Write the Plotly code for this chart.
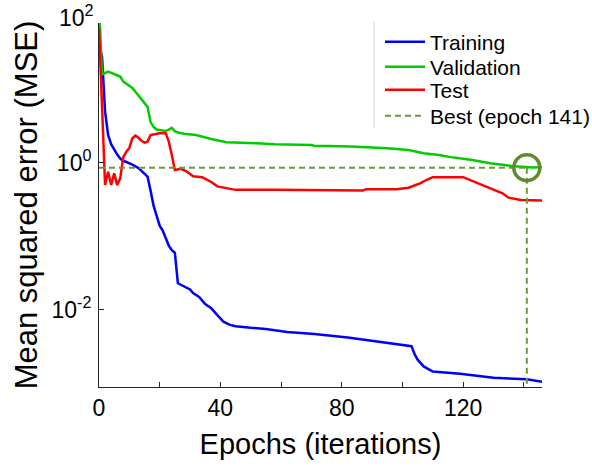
import plotly.graph_objects as go

# ---- data ----
train_epoch = [0, 1, 2, 3, 4, 5, 6, 7, 8, 9, 10, 11, 12, 13, 14, 15, 16, 17, 18, 19, 20,
               21, 22, 23, 24, 25, 26, 27, 28, 29, 30, 31, 32, 33, 35, 37, 39, 41, 43, 45,
               50, 55, 62, 71, 82, 93, 103, 104, 105, 107, 110, 119, 130, 141, 145, 146]
train_mse = [40, 28, 5.0, 2.4, 1.8, 1.5, 1.3, 1.15, 1.07, 1.03, 1.0, 0.95, 0.9, 0.85, 0.78,
             0.72, 0.65, 0.42, 0.26, 0.19, 0.14, 0.12, 0.095, 0.075, 0.065, 0.06, 0.023,
             0.022, 0.021, 0.02, 0.019, 0.017, 0.016, 0.015, 0.012, 0.0105, 0.0085, 0.0069,
             0.0063, 0.006, 0.0057, 0.0055, 0.005, 0.0047, 0.0042, 0.0036, 0.0032, 0.0025,
             0.0021, 0.0017, 0.00145, 0.00135, 0.00119, 0.00114, 0.00107, 0.00105]

val_epoch = [0, 1, 3, 5, 7, 8, 10, 11, 13, 15, 16, 17, 18, 19, 21, 22, 23, 24, 25, 26, 28,
             32, 37, 42, 52, 58, 70, 71, 83, 95, 102, 105, 107, 112, 116, 123, 129, 136,
             139, 141, 143, 145, 146]
val_mse = [150, 16, 17.5, 16, 15, 12.8, 11.2, 10.5, 8.3, 6.4, 5.8, 3.6, 3.1, 2.85, 2.75,
           2.72, 2.85, 3.0, 2.7, 2.6, 2.5, 2.4, 2.12, 1.91, 1.85, 1.8, 1.75, 1.72, 1.67,
           1.585, 1.5, 1.42, 1.355, 1.285, 1.2, 1.1, 0.99, 0.91, 0.89, 0.863, 0.868,
           0.872, 0.875]

test_epoch = [0, 1, 2, 3, 4, 5, 6, 7, 8, 9, 10, 11, 12, 13, 14, 15, 16, 17, 18, 20, 22,
              23, 24, 25, 27, 29, 31, 34, 36, 37, 39, 42, 45, 58, 87, 88, 98, 102, 104,
              106, 108, 110, 120, 123, 126, 129, 133, 135, 139, 146]
test_mse = [70, 5.0, 0.5, 0.76, 0.5, 0.72, 0.5, 0.62, 1.2, 1.42, 1.6, 2.17, 2.35, 2.2, 2.0,
            1.89, 1.95, 2.4, 2.45, 2.54, 2.54, 1.95, 1.28, 0.8, 0.83, 0.76, 0.66, 0.64,
            0.58, 0.55, 0.48, 0.455, 0.43, 0.43, 0.42, 0.44, 0.44, 0.46, 0.49, 0.53, 0.59,
            0.64, 0.64, 0.57, 0.5, 0.455, 0.387, 0.337, 0.314, 0.307]

best_epoch = 141
best_mse = 0.863

series_names = ["Training", "Validation", "Test"]
best_label = "Best (epoch 141)"

# ---- styling ----
FONT = "Liberation Sans, Arial, sans-serif"
x_range = [0, 146]
y_log_range = [-3.05, 1.905]
dash_col = "#6a9a38"
circle_col = "#5e8c2c"

ML, MR, MT, MB = 99, 50, 23, 79
W, H = 592, 466
PH = H - MT - MB


def paper_y(py):
    return 1 - (py - MT) / PH


def paper_x(px):
    return (px - ML) / (W - ML - MR)


fig = go.Figure()
fig.add_trace(go.Scatter(x=train_epoch, y=train_mse, mode="lines", name=series_names[0],
                         line=dict(color="#0000ff", width=2.5), legend="legend"))
fig.add_trace(go.Scatter(x=val_epoch, y=val_mse, mode="lines", name=series_names[1],
                         line=dict(color="#00cc00", width=2.5), legend="legend2"))
fig.add_trace(go.Scatter(x=test_epoch, y=test_mse, mode="lines", name=series_names[2],
                         line=dict(color="#ff0000", width=2.5), legend="legend3"))
fig.add_trace(go.Scatter(x=[x_range[0], best_epoch], y=[best_mse, best_mse], mode="lines",
                         name=best_label, legend="legend4",
                         line=dict(color=dash_col, width=2, dash="6px,4px")))
fig.add_trace(go.Scatter(x=[best_epoch, best_epoch], y=[best_mse, 10 ** y_log_range[0]],
                         mode="lines", showlegend=False,
                         line=dict(color=dash_col, width=2, dash="6px,4px")))
fig.add_trace(go.Scatter(x=[best_epoch], y=[best_mse], mode="markers", showlegend=False,
                         marker=dict(symbol="circle-open", size=26, color=circle_col,
                                     line=dict(color=circle_col, width=3.5)),
                         cliponaxis=False))

leg_common = dict(xanchor="left", yanchor="middle", itemwidth=40,
                  font=dict(family=FONT, size=21, color="black"),
                  bgcolor="rgba(0,0,0,0)", borderwidth=0)
leg_x = paper_x(380)
row_py = [42, 67, 90, 116]

fig.update_layout(
    width=W, height=H,
    margin=dict(l=ML, r=MR, t=MT, b=MB, autoexpand=False),
    paper_bgcolor="white", plot_bgcolor="white",
    font=dict(family=FONT, color="black"),
    showlegend=True,
    legend=dict(x=leg_x, y=paper_y(row_py[0]), **leg_common),
    legend2=dict(x=leg_x, y=paper_y(row_py[1]), **leg_common),
    legend3=dict(x=leg_x, y=paper_y(row_py[2]), **leg_common),
    legend4=dict(x=leg_x, y=paper_y(row_py[3]), **leg_common),
    xaxis=dict(range=x_range, showline=True, linecolor="#262626", linewidth=1,
               showgrid=False, zeroline=False, ticks="inside", ticklen=5,
               tickcolor="#262626", tick0=0, dtick=40, automargin=False,
               minor=dict(dtick=20, ticks="inside", ticklen=5, tickcolor="#262626"),
               tickfont=dict(family=FONT, size=23, color="black"),
               title=dict(text="Epochs (iterations)", standoff=14,
                          font=dict(family=FONT, size=29, color="black"))),
    yaxis=dict(type="log", range=y_log_range, showline=True, linecolor="#262626",
               linewidth=1, showgrid=False, zeroline=False, ticks="inside", ticklen=5,
               tickcolor="#262626", tickvals=[0.01, 1], automargin=False,
               ticktext=["10<sup>-2</sup>", "10<sup>0</sup>"],
               ticklabelstandoff=2,
               tickfont=dict(family=FONT, size=23, color="black"),
               title=dict(text="Mean squared error (MSE)", standoff=4,
                          font=dict(family=FONT, size=31, color="black"))),
)

fig.add_annotation(x=0, xref="paper",
                   y=(2 - y_log_range[0]) / (y_log_range[1] - y_log_range[0]), yref="paper",
                   text="10<sup>2</sup>", showarrow=False, xanchor="right", yanchor="middle",
                   xshift=-3, font=dict(family=FONT, size=23, color="black"))

# light grey left edge of the legend box
fig.add_shape(type="line", xref="paper", yref="paper",
              x0=paper_x(374), x1=paper_x(374), y0=paper_y(22), y1=paper_y(128),
              line=dict(color="#d0d0d0", width=1))

fig.write_html("out.html")
